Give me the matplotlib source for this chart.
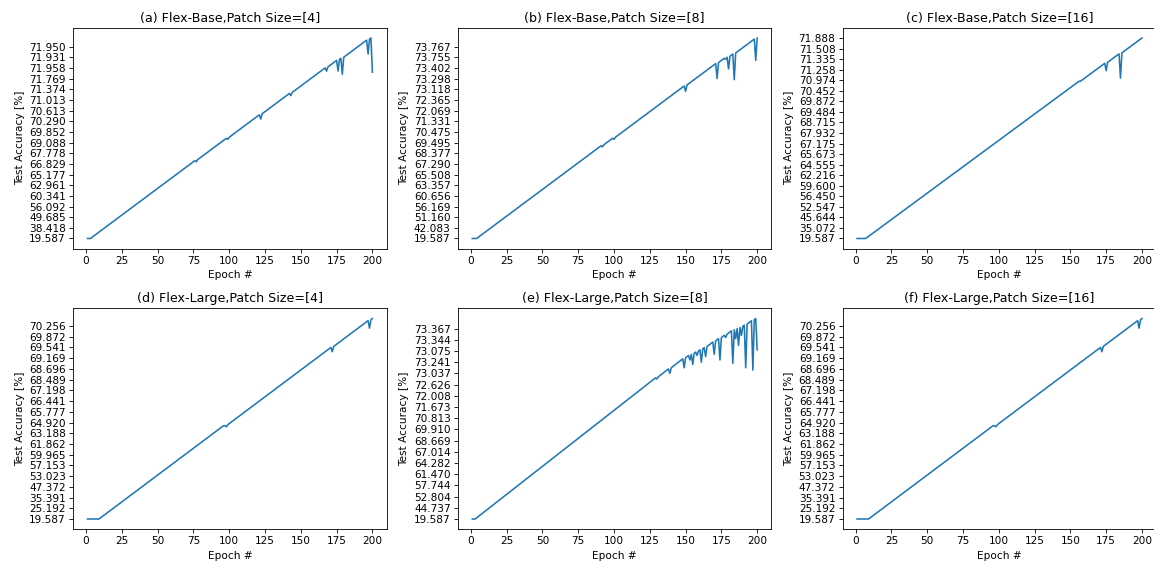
import numpy as np
import matplotlib
matplotlib.use("Agg")
import matplotlib.pyplot as plt

epochs = np.arange(1, 201)

titles = ["(a) Flex-Base,Patch Size=[4]", "(b) Flex-Base,Patch Size=[8]",
          "(c) Flex-Base,Patch Size=[16]", "(d) Flex-Large,Patch Size=[4]",
          "(e) Flex-Large,Patch Size=[8]", "(f) Flex-Large,Patch Size=[16]"]

# y tick labels: every 10th accuracy string, in order of first appearance
labels_a = ["19.587", "38.418", "49.685", "56.092", "60.341", "62.961", "65.177",
            "66.829", "67.778", "69.088", "69.852", "70.290", "70.613", "71.013",
            "71.374", "71.769", "71.958", "71.931", "71.950"]
labels_b = ["19.587", "42.083", "51.160", "56.169", "60.656", "63.357", "65.508",
            "67.290", "68.377", "69.495", "70.475", "71.331", "72.069", "72.365",
            "73.118", "73.298", "73.402", "73.755", "73.767"]
labels_c = ["19.587", "35.072", "45.644", "52.547", "56.450", "59.600", "62.216",
            "64.555", "65.673", "67.175", "67.932", "68.715", "69.484", "69.872",
            "70.452", "70.974", "71.258", "71.335", "71.508", "71.888"]
labels_d = ["19.587", "25.192", "35.391", "47.372", "53.023", "57.153", "59.965",
            "61.862", "63.188", "64.920", "65.777", "66.441", "67.198", "68.489",
            "68.696", "69.169", "69.541", "69.872", "70.256"]
labels_e = ["19.587", "44.737", "52.804", "57.744", "61.470", "64.282", "67.014",
            "68.669", "69.910", "70.813", "71.673", "72.008", "72.626", "73.037",
            "73.241", "73.075", "73.344", "73.367"]
labels_f = list(labels_d)

# epochs stuck at the first value, and epochs whose accuracy repeats an
# earlier one (how many categories back from the newest)
flat_a = 3
rep_ep_a = [77, 99, 122, 143, 168, 176, 179, 197, 200]
rep_back_a = [1, 1, 4, 2, 3, 10, 15, 13, 32]

flat_b = 4
rep_ep_b = [92, 100, 150, 172, 178, 180, 184, 199]
rep_back_b = [1, 1, 5, 14, 1, 11, 24, 20]

flat_c = 7
rep_ep_c = [157, 175, 185]
rep_back_c = [0, 7, 23]

flat_d = 9
rep_ep_d = [97, 98, 172, 198]
rep_back_d = [0, 1, 4, 7]

flat_e = 3
rep_ep_e = [130, 139, 149, 153, 155, 158, 161, 164, 170, 174, 178, 183, 185,
            187, 189, 192, 197, 200]
rep_back_e = [1, 4, 8, 4, 9, 3, 11, 8, 11, 19, 2, 29, 8, 15, 7, 38, 44, 28]

flat_f = 9
rep_ep_f = [97, 98, 172, 198]
rep_back_f = [0, 1, 4, 7]


def category_index(n_flat, rep_ep, rep_back):
    # position of each epoch's value on a categorical (string) y axis
    back = dict(zip(rep_ep, rep_back))
    idx, top = [], 0
    for e in epochs:
        if e <= n_flat:
            idx.append(0)
        elif e in back:
            idx.append(top - back[e])
        else:
            top += 1
            idx.append(top)
    return idx


panels = [
    (labels_a, flat_a, rep_ep_a, rep_back_a),
    (labels_b, flat_b, rep_ep_b, rep_back_b),
    (labels_c, flat_c, rep_ep_c, rep_back_c),
    (labels_d, flat_d, rep_ep_d, rep_back_d),
    (labels_e, flat_e, rep_ep_e, rep_back_e),
    (labels_f, flat_f, rep_ep_f, rep_back_f),
]

fig, axs = plt.subplots(2, 3, figsize=(1154 / 76, 567 / 76), dpi=76)
plt.subplots_adjust(left=0.0635, right=1.0019, bottom=0.067, top=0.9506,
                    wspace=0.228, hspace=0.272)

for ax, title, (labels, n_flat, rep_ep, rep_back) in zip(axs.flat, titles, panels):
    ax.plot(epochs, category_index(n_flat, rep_ep, rep_back))
    ax.set_yticks(range(0, 10 * len(labels), 10))
    ax.set_yticklabels(labels)
    ax.set_title(title)
    ax.set_xlabel("Epoch #")
    ax.set_ylabel("Test Accuracy [%]")

fig.savefig("out.png", dpi=76)
